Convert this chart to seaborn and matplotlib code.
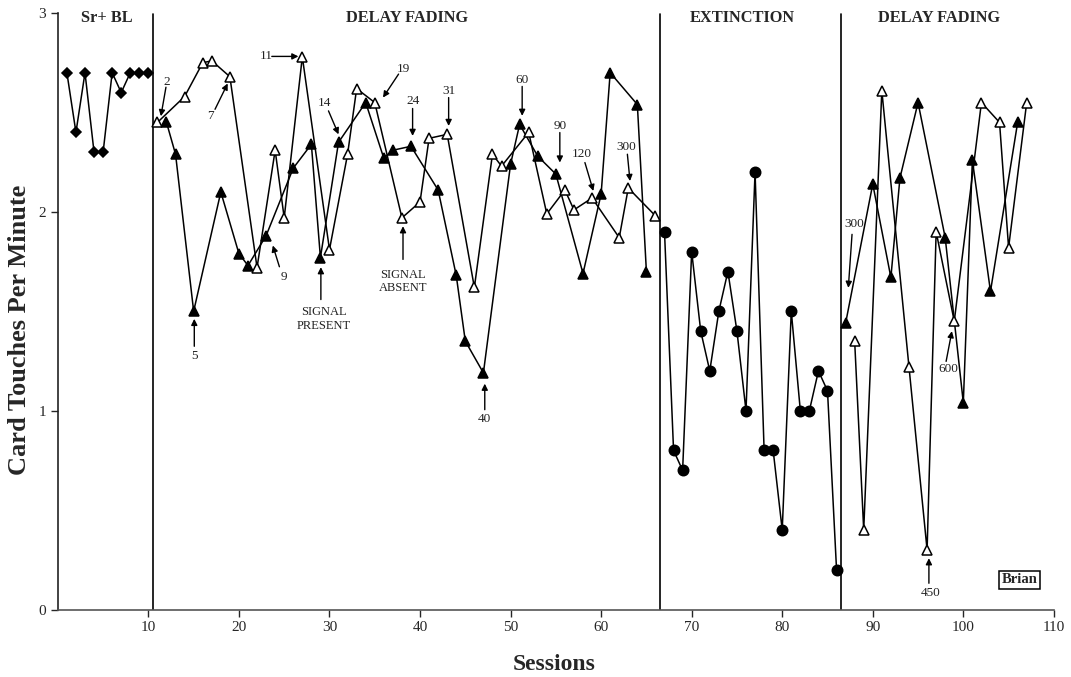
import matplotlib
matplotlib.use("Agg")
import matplotlib.pyplot as plt
import seaborn as sns
import pandas as pd

# baseline (Sr+ BL)
bl_sess = [1, 2, 3, 4, 5, 6, 7, 8, 9, 10]
bl_vals = [2.7, 2.4, 2.7, 2.3, 2.3, 2.7, 2.6, 2.7, 2.7, 2.7]

# delay fading 1 - signal present (filled) / signal absent (open)
df1_pres_sess = [12, 13, 15, 18, 20, 21, 23, 26, 28, 29, 31, 34, 36, 37, 39, 42, 44, 45, 47,
                 50, 51, 53, 55, 58, 60, 61, 64, 65]
df1_pres_vals = [2.45, 2.29, 1.50, 2.10, 1.79, 1.73, 1.88, 2.22, 2.34, 1.77, 2.35, 2.55, 2.27, 2.31,
                 2.33, 2.11, 1.68, 1.35, 1.19, 2.24, 2.44, 2.28, 2.19, 1.69, 2.09, 2.70, 2.54, 1.70]
df1_abs_sess = [11, 14, 16, 17, 19, 22, 24, 25, 27, 30, 32, 33, 35, 38, 40, 41, 43, 46, 48,
                49, 52, 54, 56, 57, 59, 62, 63, 66]
df1_abs_vals = [2.45, 2.58, 2.75, 2.76, 2.68, 1.72, 2.31, 1.97, 2.78, 1.81, 2.29, 2.62, 2.55, 1.97,
                2.05, 2.37, 2.39, 1.62, 2.29, 2.23, 2.40, 1.99, 2.11, 2.01, 2.07, 1.87, 2.12, 1.98]

# extinction
ext_sess = list(range(67, 87))
ext_vals = [1.9, 0.8, 0.7, 1.8, 1.4, 1.2, 1.5, 1.7, 1.4, 1.0, 2.2, 0.8, 0.8, 0.4, 1.5, 1.0,
            1.0, 1.2, 1.1, 0.2]

# delay fading 2
df2_pres_sess = [87, 90, 92, 93, 95, 98, 100, 101, 103, 106]
df2_pres_vals = [1.44, 2.14, 1.67, 2.17, 2.55, 1.87, 1.04, 2.26, 1.60, 2.45]
df2_abs_sess = [88, 89, 91, 94, 96, 97, 99, 102, 104, 105, 107]
df2_abs_vals = [1.35, 0.40, 2.61, 1.22, 0.30, 1.90, 1.45, 2.55, 2.45, 1.82, 2.55]

phase_lines = [10.5, 66.5, 86.5]
phase_names = ["Sr+ BL", "DELAY FADING", "EXTINCTION", "DELAY FADING"]
phase_x = [5.4, 38.6, 75.6, 97.3]

# annotations: text, text pos, arrow start, arrow tip
notes = [
    ("2", (12.01, 2.654), (11.94, 2.627), (11.38, 2.481)),
    ("7", (16.88, 2.483), (17.36, 2.516), (18.76, 2.646)),
    ("11", (23.0, 2.782), (23.63, 2.782), (26.57, 2.782)),
    ("14", (29.41, 2.547), (29.89, 2.508), (31.0, 2.390)),
    ("19", (38.19, 2.721), (37.63, 2.693), (35.91, 2.575)),
    ("24", (39.23, 2.558), (39.18, 2.520), (39.18, 2.382)),
    ("31", (43.16, 2.609), (43.16, 2.575), (43.16, 2.432)),
    ("60", (51.28, 2.664), (51.28, 2.631), (51.28, 2.483)),
    ("90", (55.52, 2.432), (55.44, 2.399), (55.44, 2.248)),
    ("120", (57.81, 2.290), (58.21, 2.248), (59.14, 2.105)),
    ("300", (62.82, 2.326), (62.90, 2.290), (63.19, 2.155)),
    ("5", (15.07, 1.277), (15.07, 1.324), (15.07, 1.462)),
    ("9", (24.91, 1.674), (24.47, 1.724), (23.74, 1.831)),
    ("SIGNAL\nPRESENT", (29.41, 1.462), (29.05, 1.559), (29.05, 1.722)),
    ("SIGNAL\nABSENT", (38.12, 1.651), (38.12, 1.761), (38.12, 1.928)),
    ("40", (47.15, 0.958), (47.15, 1.005), (47.15, 1.136)),
    ("300", (87.96, 1.937), (87.71, 1.887), (87.30, 1.618)),
    ("450", (96.34, 0.085), (96.20, 0.132), (96.20, 0.258)),
    ("600", (98.30, 1.210), (98.10, 1.248), (98.74, 1.400)),
]

sns.set_style("ticks")
plt.rcParams["font.family"] = ["Liberation Serif", "DejaVu Serif"]

fig = plt.figure(figsize=(10.71, 6.77), dpi=100)
ax = fig.add_axes([0.054, 0.0997, 0.930, 0.881])

def draw(xs, ys, marker, face, size):
    d = pd.DataFrame({"s": xs, "v": ys})
    sns.lineplot(data=d, x="s", y="v", ax=ax, color="black", lw=1.1, marker=marker,
                 markersize=size, markerfacecolor=face, markeredgecolor="black",
                 markeredgewidth=1.1, estimator=None, sort=False, zorder=3)

draw(bl_sess, bl_vals, "D", "black", 5.5)
draw(df1_pres_sess, df1_pres_vals, "^", "black", 7.5)
draw(df1_abs_sess, df1_abs_vals, "^", "white", 7.5)
draw(ext_sess, ext_vals, "o", "black", 7.5)
draw(df2_pres_sess, df2_pres_vals, "^", "black", 7.5)
draw(df2_abs_sess, df2_abs_vals, "^", "white", 7.5)

for xl in phase_lines:
    ax.axvline(xl, ymin=0, ymax=0.998, color="black", lw=1.2, zorder=1)

for name, px in zip(phase_names, phase_x):
    ax.text(px, 2.975, name, ha="center", va="center", fontsize=11.8, fontweight="bold")

for txt, tpos, start, tip in notes:
    fs = 9 if "\n" in txt else 9.5
    ax.text(tpos[0], tpos[1], txt, ha="center", va="center", fontsize=fs, linespacing=1.15,
            color="#222222")
    ax.annotate("", xy=tip, xytext=start,
                arrowprops=dict(arrowstyle="-|>", color="black", lw=1.0,
                                mutation_scale=9, shrinkA=0, shrinkB=0))

ax.text(106.2, 0.149, "Brian", ha="center", va="center", fontsize=10.5, fontweight="bold",
        bbox=dict(boxstyle="square,pad=0.15", fc="white", ec="black", lw=1.1))

ax.set_xlim(0, 110)
ax.set_ylim(0, 3)
ax.set_xticks(range(10, 111, 10))
ax.set_yticks([0, 1, 2, 3])
ax.tick_params(axis="both", labelsize=11, length=5, width=1, direction="out")
ax.set_xlabel("")
ax.set_ylabel("")
fig.text(554.5 / 1071, 1 - 665 / 677, "Sessions", ha="center", va="center",
         fontsize=17, fontweight="bold")
fig.text(20 / 1071, 1 - 330 / 677, "Card Touches Per Minute", ha="center", va="center",
         rotation=90, fontsize=19, fontweight="bold")
sns.despine(ax=ax)
ax.spines["left"].set_color("#222222")
ax.spines["bottom"].set_color("#555555")
for sp in ["left", "bottom"]:
    ax.spines[sp].set_linewidth(1.2)

fig.savefig("out.png", dpi=100)
